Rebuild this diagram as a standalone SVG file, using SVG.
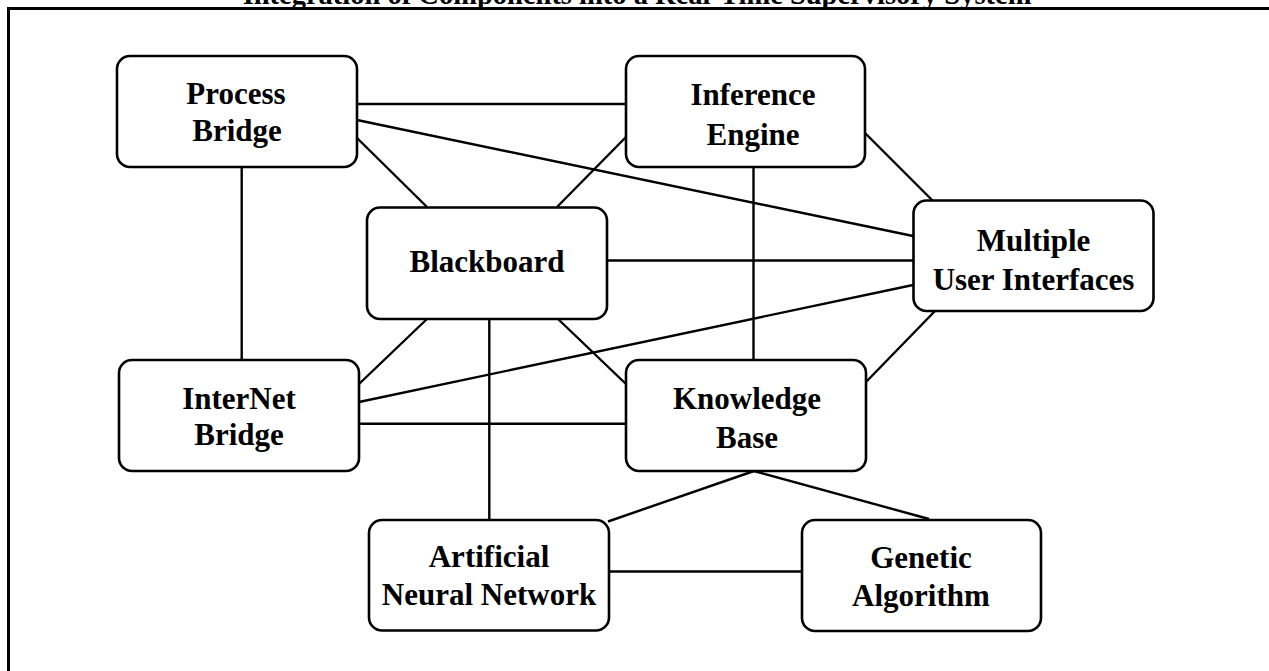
<svg xmlns="http://www.w3.org/2000/svg" width="1269" height="671" viewBox="0 0 1269 671">
<style>
.box{fill:#fff;stroke:#000;stroke-width:2.6}
.t{font-family:"Liberation Serif","Times New Roman",serif;font-weight:bold;font-size:31px;fill:#000;text-anchor:middle}
.title{font-family:"Liberation Serif","Times New Roman",serif;font-weight:bold;font-size:28.5px;fill:#000;text-anchor:middle}
#connectors line{stroke:#000;stroke-width:2.4}
</style>
<rect x="0" y="0" width="1269" height="671" fill="#fff"/>
<text class="title" x="637" y="3.5">Integration of Components into a Real-Time Supervisory System</text>
<rect x="8.5" y="8.5" width="1300" height="700" fill="none" stroke="#000" stroke-width="3"/>
<g id="connectors">
<line x1="357" y1="104" x2="626" y2="104"/>
<line x1="357" y1="120" x2="913" y2="236"/>
<line x1="357" y1="138" x2="427" y2="207"/>
<line x1="241.7" y1="167" x2="241.7" y2="360"/>
<line x1="626" y1="137" x2="557" y2="207"/>
<line x1="753.5" y1="167" x2="753.5" y2="360"/>
<line x1="865" y1="133" x2="933" y2="201"/>
<line x1="607" y1="260.5" x2="913" y2="260.5"/>
<line x1="427" y1="319" x2="359" y2="384"/>
<line x1="489.3" y1="319" x2="489.3" y2="520"/>
<line x1="558" y1="319" x2="626" y2="384"/>
<line x1="359" y1="402" x2="913" y2="285"/>
<line x1="359" y1="423.7" x2="626" y2="423.7"/>
<line x1="935" y1="311" x2="865" y2="383"/>
<line x1="754" y1="471" x2="608" y2="521.5"/>
<line x1="754" y1="471" x2="929" y2="519"/>
<line x1="609" y1="571.5" x2="802" y2="571.5"/>
</g>
<g id="process-bridge">
<rect class="box" x="117" y="56" width="240" height="111" rx="13"/>
<text class="t" x="236" y="104">Process</text>
<text class="t" x="237" y="141">Bridge</text>
</g>
<g id="inference-engine">
<rect class="box" x="626" y="56" width="239" height="111" rx="13"/>
<text class="t" x="753" y="105">Inference</text>
<text class="t" x="753" y="145">Engine</text>
</g>
<g id="blackboard">
<rect class="box" x="367" y="207.5" width="240" height="111.5" rx="13"/>
<text class="t" x="487" y="272">Blackboard</text>
</g>
<g id="multiple-user-interfaces">
<rect class="box" x="913.5" y="200.5" width="240" height="110.5" rx="13"/>
<text class="t" x="1033.5" y="250.5">Multiple</text>
<text class="t" x="1033.5" y="289.5">User Interfaces</text>
</g>
<g id="internet-bridge">
<rect class="box" x="119" y="360" width="240" height="111" rx="13"/>
<text class="t" x="239" y="408.5">InterNet</text>
<text class="t" x="239" y="444.5">Bridge</text>
</g>
<g id="knowledge-base">
<rect class="box" x="626" y="360" width="240" height="111" rx="13"/>
<text class="t" x="747" y="408.5">Knowledge</text>
<text class="t" x="747" y="448">Base</text>
</g>
<g id="artificial-neural-network">
<rect class="box" x="369" y="520" width="240" height="110.5" rx="13"/>
<text class="t" x="489" y="566.5">Artificial</text>
<text class="t" x="489" y="604.5">Neural Network</text>
</g>
<g id="genetic-algorithm">
<rect class="box" x="802" y="520" width="239" height="111" rx="13"/>
<text class="t" x="921" y="568">Genetic</text>
<text class="t" x="921" y="606">Algorithm</text>
</g>
</svg>
